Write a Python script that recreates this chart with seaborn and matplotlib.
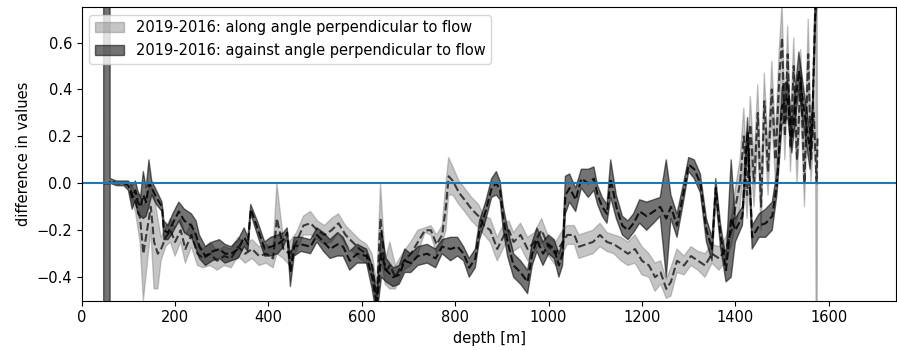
import matplotlib
matplotlib.use("Agg")
import matplotlib.pyplot as plt
import seaborn as sns
import pandas as pd

# ---- data (depth [m], mean difference, half band width) ----
along_depth = [105, 115, 125, 132, 140, 148, 155, 163, 170, 180,
               190, 200, 212, 222, 235, 248, 260, 275, 290, 305,
               320, 335, 350, 365, 380, 395, 410, 418, 432, 445,
               460, 475, 490, 505, 520, 535, 550, 565, 580, 595,
               610, 622, 632, 640, 650, 660, 672, 690, 705, 720,
               735, 748, 760, 772, 780, 786, 795, 808, 820, 835,
               850, 862, 875, 890, 905, 915, 925, 940, 955, 970,
               985, 1000, 1015, 1030, 1040, 1055, 1065, 1080, 1095, 1110,
               1125, 1140, 1155, 1170, 1185, 1200, 1215, 1228, 1240, 1252,
               1262, 1275, 1290, 1305, 1320, 1335, 1350, 1365, 1380, 1392,
               1400, 1410, 1418, 1425, 1432, 1440, 1448, 1455, 1462, 1470,
               1478, 1486, 1494, 1500, 1506, 1512, 1518, 1525, 1532, 1540,
               1548, 1556, 1562, 1568, 1572, 1574, 1576]
along_value = [-0.03, -0.08, -0.15, -0.30, -0.20, -0.10, -0.25, -0.30, -0.28, -0.23,
               -0.20, -0.25, -0.20, -0.28, -0.22, -0.30, -0.32, -0.30, -0.33, -0.31,
               -0.32, -0.27, -0.30, -0.28, -0.31, -0.30, -0.32, -0.15, -0.28, -0.30,
               -0.25, -0.18, -0.17, -0.20, -0.22, -0.20, -0.17, -0.22, -0.25, -0.28,
               -0.30, -0.35, -0.48, -0.15, -0.38, -0.35, -0.40, -0.33, -0.30, -0.25,
               -0.20, -0.20, -0.26, -0.22, -0.10, 0.03, 0.01, -0.04, -0.07, -0.11,
               -0.14, -0.18, -0.20, -0.28, -0.22, -0.20, -0.25, -0.22, -0.28, -0.25,
               -0.20, -0.27, -0.30, -0.25, -0.22, -0.22, -0.27, -0.26, -0.25, -0.22,
               -0.25, -0.26, -0.28, -0.30, -0.28, -0.33, -0.35, -0.40, -0.38, -0.45,
               -0.42, -0.33, -0.35, -0.31, -0.33, -0.35, -0.30, -0.32, -0.28, -0.20,
               -0.10, 0.00, 0.20, -0.05, 0.25, 0.00, 0.30, -0.10, 0.35, 0.05,
               0.40, 0.10, 0.45, 0.62, 0.20, 0.55, 0.15, 0.50, 0.10, 0.45,
               0.00, 0.55, 0.10, 0.30, 0.10, 0.00, 0.20]
along_spread = [0.03, 0.04, 0.10, 0.20, 0.15, 0.10, 0.20, 0.15, 0.05, 0.04,
                0.05, 0.06, 0.05, 0.06, 0.05, 0.05, 0.04, 0.05, 0.04, 0.04,
                0.04, 0.04, 0.04, 0.04, 0.04, 0.04, 0.04, 0.15, 0.04, 0.05,
                0.04, 0.04, 0.05, 0.04, 0.04, 0.05, 0.04, 0.04, 0.04, 0.04,
                0.04, 0.05, 0.05, 0.15, 0.05, 0.10, 0.05, 0.04, 0.05, 0.05,
                0.01, 0.02, 0.04, 0.04, 0.10, 0.08, 0.06, 0.05, 0.05, 0.05,
                0.05, 0.04, 0.05, 0.05, 0.05, 0.04, 0.04, 0.05, 0.05, 0.04,
                0.05, 0.04, 0.05, 0.05, 0.04, 0.04, 0.05, 0.05, 0.05, 0.05,
                0.04, 0.04, 0.05, 0.05, 0.06, 0.06, 0.05, 0.06, 0.05, 0.04,
                0.06, 0.05, 0.04, 0.04, 0.04, 0.05, 0.04, 0.05, 0.05, 0.06,
                0.08, 0.10, 0.12, 0.10, 0.12, 0.10, 0.12, 0.10, 0.12, 0.10,
                0.12, 0.10, 0.12, 0.15, 0.10, 0.12, 0.10, 0.12, 0.10, 0.12,
                0.10, 0.15, 0.10, 0.10, 0.05, 1.50, 0.05]

against_depth = [47, 59, 61, 75, 90, 100, 108, 115, 120, 126,
                 132, 138, 144, 150, 160, 172, 176, 185, 195, 208,
                 220, 235, 245, 252, 265, 280, 295, 307, 320, 335,
                 348, 356, 362, 378, 392, 405, 420, 432, 440, 447,
                 455, 470, 490, 504, 518, 532, 548, 560, 574, 590,
                 610, 622, 632, 642, 652, 667, 680, 692, 705, 720,
                 740, 758, 772, 790, 805, 818, 830, 843, 852, 865,
                 878, 888, 896, 903, 912, 925, 940, 955, 965, 975,
                 988, 1000, 1012, 1022, 1030, 1036, 1045, 1058, 1070, 1085,
                 1097, 1105, 1115, 1125, 1133, 1145, 1158, 1170, 1182, 1195,
                 1210, 1225, 1239, 1252, 1262, 1275, 1288, 1300, 1312, 1325,
                 1338, 1350, 1358, 1368, 1380, 1391, 1400, 1415, 1426, 1436,
                 1451, 1465, 1479, 1489, 1500, 1512, 1521, 1536, 1548, 1560,
                 1565, 1572, 1580]
against_value = [0.00, 0.00, 0.01, 0.00, 0.00, -0.01, -0.06, -0.03, -0.08, -0.10,
                 -0.05, -0.08, 0.00, -0.02, -0.06, -0.10, -0.20, -0.21, -0.17, -0.12,
                 -0.16, -0.18, -0.22, -0.27, -0.31, -0.29, -0.28, -0.30, -0.30, -0.28,
                 -0.23, -0.26, -0.11, -0.20, -0.28, -0.27, -0.26, -0.24, -0.21, -0.38,
                 -0.27, -0.26, -0.27, -0.22, -0.25, -0.28, -0.26, -0.27, -0.33, -0.30,
                 -0.31, -0.40, -0.52, -0.30, -0.37, -0.40, -0.39, -0.33, -0.34, -0.31,
                 -0.30, -0.32, -0.27, -0.28, -0.27, -0.30, -0.36, -0.32, -0.20, -0.12,
                 -0.02, 0.00, -0.03, -0.15, -0.25, -0.35, -0.38, -0.42, -0.30, -0.24,
                 -0.30, -0.26, -0.28, -0.35, -0.30, -0.05, -0.02, -0.07, 0.02, 0.00,
                 0.02, -0.05, -0.10, -0.13, 0.02, -0.10, -0.18, -0.20, -0.17, -0.12,
                 -0.14, -0.12, -0.10, -0.15, -0.10, -0.18, -0.05, 0.08, 0.06, 0.00,
                 -0.20, -0.28, -0.02, -0.22, -0.37, -0.15, -0.20, -0.14, 0.22, -0.23,
                 -0.18, -0.17, -0.14, 0.00, 0.33, 0.36, 0.19, 0.48, 0.30, 0.14,
                 0.28, 0.80, 1.00]
against_spread = [6.00, 6.00, 0.01, 0.01, 0.01, 0.02, 0.05, 0.04, 0.05, 0.04,
                  0.10, 0.06, 0.10, 0.03, 0.03, 0.02, 0.04, 0.03, 0.04, 0.04,
                  0.05, 0.05, 0.06, 0.05, 0.04, 0.04, 0.04, 0.04, 0.03, 0.04,
                  0.04, 0.03, 0.02, 0.03, 0.03, 0.04, 0.04, 0.03, 0.02, 0.06,
                  0.04, 0.03, 0.03, 0.03, 0.04, 0.04, 0.05, 0.04, 0.04, 0.04,
                  0.03, 0.05, 0.05, 0.10, 0.05, 0.04, 0.04, 0.05, 0.04, 0.04,
                  0.04, 0.04, 0.03, 0.05, 0.04, 0.03, 0.04, 0.04, 0.04, 0.04,
                  0.04, 0.05, 0.04, 0.05, 0.06, 0.05, 0.05, 0.05, 0.05, 0.05,
                  0.05, 0.04, 0.04, 0.05, 0.05, 0.08, 0.06, 0.05, 0.04, 0.06,
                  0.05, 0.04, 0.04, 0.04, 0.08, 0.05, 0.04, 0.04, 0.04, 0.05,
                  0.06, 0.05, 0.04, 0.25, 0.05, 0.05, 0.04, 0.03, 0.04, 0.04,
                  0.05, 0.05, 0.04, 0.05, 0.05, 0.25, 0.05, 0.04, 0.06, 0.05,
                  0.05, 0.06, 0.06, 0.05, 0.08, 0.08, 0.06, 0.08, 0.08, 0.08,
                  0.06, 0.10, 0.10]

labels = ["2019-2016: along angle perpendicular to flow",
          "2019-2016: against angle perpendicular to flow"]

plt.rcParams["font.size"] = 10.5

along = pd.DataFrame({"depth": along_depth, "value": along_value, "spread": along_spread})
against = pd.DataFrame({"depth": against_depth, "value": against_value, "spread": against_spread})

fig = plt.figure(figsize=(8.97, 3.5), dpi=100)
ax = fig.add_axes([0.0911, 0.141, 0.9083, 0.838])

ax.fill_between(along["depth"], along["value"] - along["spread"], along["value"] + along["spread"],
                color="gray", alpha=0.45, label=labels[0])
ax.fill_between(against["depth"], against["value"] - against["spread"],
                against["value"] + against["spread"], color="k", alpha=0.55, label=labels[1])

sns.lineplot(data=along, x="depth", y="value", ax=ax, color="k", linestyle="--",
             lw=1.5, alpha=0.7, sort=False, legend=False, estimator=None)
sns.lineplot(data=against, x="depth", y="value", ax=ax, color="k", linestyle="--",
             lw=1.5, alpha=0.85, sort=False, legend=False, estimator=None)

ax.axhline(0, color="C0", lw=1.5)

ax.set_xlim(0, 1745)
ax.set_ylim(-0.5, 0.75)
ax.set_xlabel("depth [m]")
ax.set_ylabel("difference in values")
ax.legend(loc="upper left")

fig.savefig("out.png", dpi=100)
